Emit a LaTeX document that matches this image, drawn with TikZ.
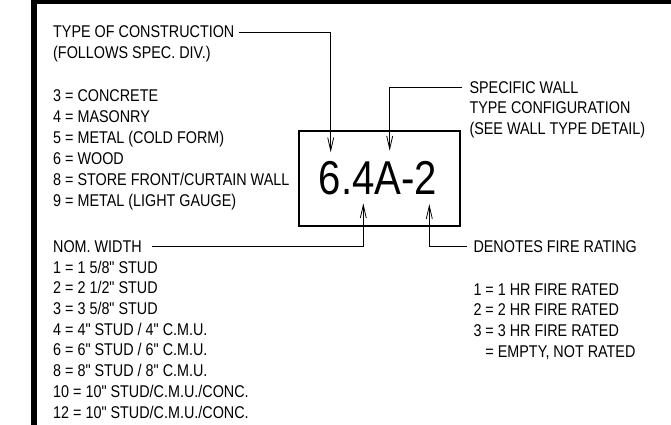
\documentclass[tikz,border=0pt]{standalone}
\usepackage{fontspec}
\setmainfont{Liberation Sans}[FakeStretch=0.845, Ligatures=TeXOff]
\usetikzlibrary{arrows.meta}
\tikzset{
  lbl/.style={anchor=base west, inner sep=0pt, font=\fontsize{17}{20}\selectfont},
  big/.style={inner sep=0pt, font=\fontsize{47.5}{50}\selectfont},
  leader/.style={line width=0.9pt, -{Straight Barb[length=13pt,width=6pt,line width=0.8pt]}},
  frame/.style={line width=1.3pt},
  band/.style={fill=black, draw=none}
}
\begin{document}
\begin{tikzpicture}[x=1pt,y=-1pt]
\useasboundingbox (0,0) rectangle (671,425);
% black border bands
\fill[band] (31,0) rectangle (671,4.5);
\fill[band] (31,0) rectangle (37.3,425);
% central box
\node[frame, draw, minimum width=161pt, minimum height=95pt, inner sep=0pt] (box) at (379.5,178.5) {};
\node[big] (code) at (378,178) {6.4A-2};
% left upper text
\node[lbl] (toc) at (53,38) {TYPE OF CONSTRUCTION};
\node[lbl] (toc2) at (53,59) {(FOLLOWS SPEC. DIV.)};
\node[lbl] (c3) at (53,101.7) {3 = CONCRETE};
\node[lbl] (c4) at (53,122.7) {4 = MASONRY};
\node[lbl] (c5) at (53,143.7) {5 = METAL (COLD FORM)};
\node[lbl] (c6) at (53,164.5) {6 = WOOD};
\node[lbl] (c8) at (53,185.5) {8 = STORE FRONT/CURTAIN WALL};
\node[lbl] (c9) at (53,206.5) {9 = METAL (LIGHT GAUGE)};
% left lower text
\node[lbl] (nw) at (53,252.7) {NOM. WIDTH};
\node[lbl] (w1) at (53,273.3) {1 = 1 5/8" STUD};
\node[lbl] (w2) at (53,293.9) {2 = 2 1/2" STUD};
\node[lbl] (w3) at (53,314.5) {3 = 3 5/8" STUD};
\node[lbl] (w4) at (53,335.1) {4 = 4" STUD / 4" C.M.U.};
\node[lbl] (w6) at (53,355.7) {6 = 6" STUD / 6" C.M.U.};
\node[lbl] (w8) at (53,376.3) {8 = 8" STUD / 8" C.M.U.};
\node[lbl] (w10) at (53,397.2) {10 = 10" STUD/C.M.U./CONC.};
\node[lbl] (w12) at (53,418) {12 = 10" STUD/C.M.U./CONC.};
% right upper text
\node[lbl] (sw) at (469.3,93.3) {SPECIFIC WALL};
\node[lbl] (sw2) at (469.3,113.8) {TYPE CONFIGURATION};
\node[lbl] (sw3) at (469.3,134.5) {(SEE WALL TYPE DETAIL)};
% right lower text
\node[lbl] (fr) at (473.3,252.7) {DENOTES FIRE RATING};
\node[lbl] (f1) at (473.3,295) {1 = 1 HR FIRE RATED};
\node[lbl] (f2) at (473.3,315.8) {2 = 2 HR FIRE RATED};
\node[lbl] (f3) at (473.3,336.6) {3 = 3 HR FIRE RATED};
\node[lbl] (f0) at (473.3,357.2) {\phantom{3} = EMPTY, NOT RATED};
% leader end points
\coordinate (s1) at (239,32.3);
\coordinate (t1) at (330.7,152.3);
\coordinate (s2) at (462,87.7);
\coordinate (t2) at (389.7,150.7);
\coordinate (s3) at (152,246);
\coordinate (t3) at (363.3,203.3);
\coordinate (s4) at (467,246);
\coordinate (t4) at (429.3,204);
% leaders
\draw[leader] (s1) -| (t1);
\draw[leader] (s2) -| (t2);
\draw[leader] (s3) -| (t3);
\draw[leader] (s4) -| (t4);
\end{tikzpicture}
\end{document}
